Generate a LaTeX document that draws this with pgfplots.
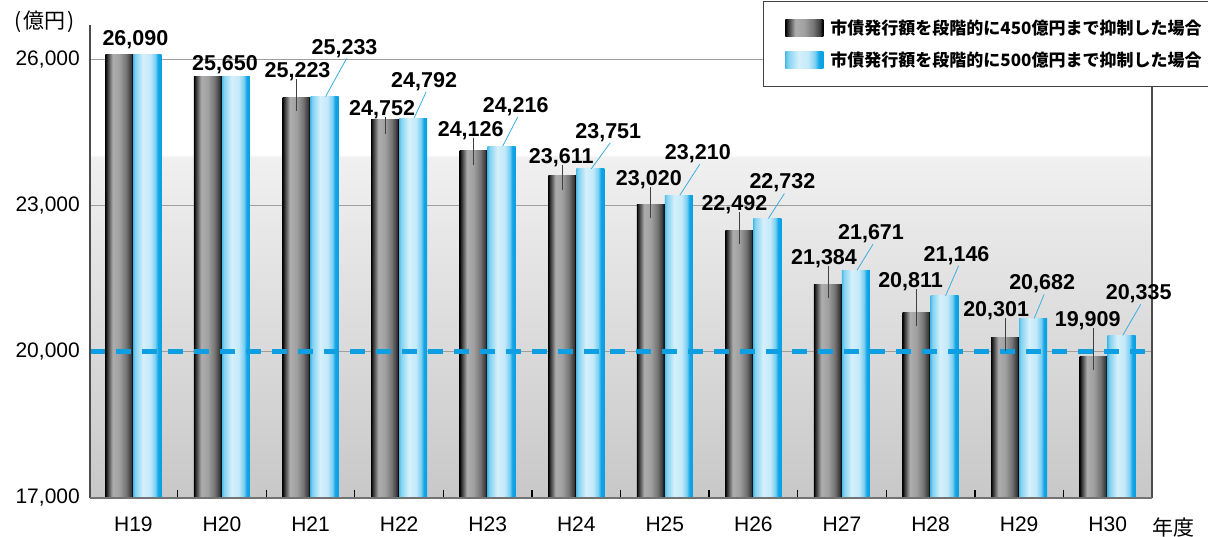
\documentclass[border=0pt]{standalone}
\usepackage{fontspec}
\setmainfont{Liberation Sans}
\newfontfamily\cjk{Noto Sans CJK JP}
\usepackage{pgfplots}
\pgfplotsset{compat=1.18}
\pgfkeys{/pgf/number format/.cd, fixed, 1000 sep={,}, assume math mode=true}

\definecolor{gbarA}{HTML}{2A2A2A}
\definecolor{gbarB}{HTML}{ADADAD}
\definecolor{gbarC}{HTML}{A0A0A0}
\definecolor{gbarD}{HTML}{747474}
\definecolor{gbarE}{HTML}{383838}
\definecolor{bbarA}{HTML}{4DBDE9}
\definecolor{bbarB}{HTML}{80D1F1}
\definecolor{bbarC}{HTML}{D5F0FB}
\definecolor{bbarD}{HTML}{C3E9F9}
\definecolor{bbarE}{HTML}{7ACFF2}
\definecolor{bbarF}{HTML}{12A5E6}
\definecolor{bbarG}{HTML}{07A0E3}
\definecolor{bgA}{HTML}{C8C8C8}
\definecolor{bgB}{HTML}{F0F0F0}
\definecolor{dashblue}{HTML}{0E9EE2}
\definecolor{leadblue}{HTML}{3AAEE0}

\pgfdeclarehorizontalshading{graybar}{100bp}{color(0bp)=(black); color(25bp)=(black); color(27.5bp)=(gbarA); color(38bp)=(gbarB); color(50bp)=(gbarC); color(62bp)=(gbarD); color(71bp)=(gbarE); color(73bp)=(black); color(100bp)=(black)}
\pgfdeclarehorizontalshading{bluebar}{100bp}{color(0bp)=(bbarA); color(25bp)=(bbarA); color(28bp)=(bbarB); color(42bp)=(bbarC); color(55bp)=(bbarD); color(64bp)=(bbarE); color(69bp)=(bbarF); color(75bp)=(bbarG); color(100bp)=(bbarG)}
\pgfdeclareverticalshading{plotbg}{100bp}{color(0bp)=(bgA); color(25bp)=(bgA); color(61bp)=(bgB); color(61.3bp)=(white); color(100bp)=(white)}

\tikzset{vlab/.style={font=\bfseries\fontsize{21.5bp}{21.5bp}\selectfont, inner sep=0pt, text depth=0pt, anchor=center}}
\pgfplotsset{
  gbarstyle/.style={ybar, bar width=28bp, bar shift=-14bp, draw=none, shade, shading=graybar,
    legend image code/.code={\path[shade, shading=graybar] (0bp,-8.5bp) rectangle (38bp,8.5bp);}},
  bbarstyle/.style={ybar, bar width=28bp, bar shift=14bp, draw=none, shade, shading=bluebar,
    legend image code/.code={\path[shade, shading=bluebar] (0bp,-8.5bp) rectangle (38bp,8.5bp);}},
}
% one bar per plot so that each bar gets its own shading
\newcommand\gbar[2]{\addplot[gbarstyle, forget plot] coordinates {(#1,#2)};}
\newcommand\bbar[2]{\addplot[bbarstyle, forget plot] coordinates {(#1,#2)};}

% idx, gray, blue, gray-dx, gray-dy, blue-dx, blue-dy
\newcommand\pair[7]{%
  \draw[black!75, line width=0.8bp] ([xshift=-14bp, yshift={#5bp-9bp}]axis cs:#1,#2) -- ([xshift=-14bp, yshift=-14bp]axis cs:#1,#2);
  \draw[leadblue, line width=0.8bp] ([xshift=15bp]axis cs:#1,#3) -- ([xshift={#6bp+2bp}, yshift={#7bp-12bp}]axis cs:#1,#3);
  \node[vlab] at ([xshift=#4bp, yshift=#5bp]axis cs:#1,#2) {\pgfmathprintnumber{#2}};
  \node[vlab] at ([xshift=#6bp, yshift=#7bp]axis cs:#1,#3) {\pgfmathprintnumber{#3}};
}

\begin{document}
\begin{tikzpicture}
\begin{axis}[
  scale only axis, width=1062bp, height=473bp,
  xmin=-0.49, xmax=11.5, ymin=17000, ymax=26700,
  xtick={0,...,11},
  xticklabels={H19,H20,H21,H22,H23,H24,H25,H26,H27,H28,H29,H30},
  ytick={17000,20000,23000,26000},
  ymajorgrids, grid style={gray!75, line width=1.2bp},
  major tick length=0pt,
  tick pos=left,
  axis line style={draw=none},
  scaled y ticks=false,
  tick label style={font=\fontsize{21bp}{24bp}\selectfont},
  xticklabel style={inner sep=0pt, anchor=north, yshift=-19bp},
  yticklabel style={inner sep=0pt, anchor=east, xshift=-10bp},
  extra x ticks={0.5,1.5,...,10.5}, extra x tick labels={},
  extra x tick style={major tick length=8bp, tick align=inside, tick style={black, line width=1.3bp}, grid=none},
  axis background/.style={shade, shading=plotbg},
  clip mode=individual,
  legend cell align=left,
  legend style={at={(0.6337,1.0507)}, anchor=north west, draw=black!75, line width=1bp, fill=white,
    inner xsep=22bp, inner ysep=18bp, row sep=15bp, nodes={inner sep=0bp},
    font=\cjk\bfseries\fontsize{17bp}{17bp}\selectfont,
    /tikz/every odd column/.append style={column sep=7bp}},
]
\addplot[gbarstyle] coordinates {(0,26090)};
\addlegendentry{市債発行額を段階的に450億円まで抑制した場合}
\addplot[bbarstyle] coordinates {(0,26090)};
\addlegendentry{市債発行額を段階的に500億円まで抑制した場合}
\gbar{1}{25650}  \bbar{1}{25650}
\gbar{2}{25223}  \bbar{2}{25233}
\gbar{3}{24752}  \bbar{3}{24792}
\gbar{4}{24126}  \bbar{4}{24216}
\gbar{5}{23611}  \bbar{5}{23751}
\gbar{6}{23020}  \bbar{6}{23210}
\gbar{7}{22492}  \bbar{7}{22732}
\gbar{8}{21384}  \bbar{8}{21671}
\gbar{9}{20811}  \bbar{9}{21146}
\gbar{10}{20301} \bbar{10}{20682}
\gbar{11}{19909} \bbar{11}{20335}
\addplot[sharp plot, forget plot, no markers, color=dashblue, line width=5bp, dash pattern=on 15bp off 11bp]
  coordinates {(-0.49,20000) (11.5,20000)};

\draw[black!70, line width=1.2bp] (rel axis cs:0,0) -- (rel axis cs:0,1);
\draw[black!70, line width=1.2bp] (rel axis cs:1,0) -- (rel axis cs:1,1);
\draw[black!55, line width=1.5bp] (rel axis cs:0,0) -- (rel axis cs:1,0);

\node[vlab] at ([xshift=2bp, yshift=17bp]axis cs:0,26090) {\pgfmathprintnumber{26090}};
\node[vlab] at ([xshift=3bp, yshift=13bp]axis cs:1,25650) {\pgfmathprintnumber{25650}};
\pair{2}{25223}{25233}{-13}{27}{34}{50}
\pair{3}{24752}{24792}{-17}{12}{25}{38}
\pair{4}{24126}{24216}{-17}{22}{28}{41}
\pair{5}{23611}{23751}{-15}{20}{32}{38}
\pair{6}{23020}{23210}{-16}{26}{33}{43}
\pair{7}{22492}{22732}{-19}{27}{29}{37}
\pair{8}{21384}{21671}{-18}{27}{29}{38}
\pair{9}{20811}{21146}{-20}{32}{26}{42}
\pair{10}{20301}{20682}{-23}{28}{23}{36}
\pair{11}{19909}{20335}{-20}{37}{31}{43}
\end{axis}
\node[font=\cjk\fontsize{21bp}{21bp}\selectfont, inner sep=0pt] at ([xshift=-45bp, yshift=476bp]current axis.south west) {(\kern2bp 億円\kern2bp)};
\node[font=\cjk\fontsize{21bp}{21bp}\selectfont, inner sep=0pt] at ([xshift=1083bp, yshift=-29bp]current axis.south west) {年度};
\pgfresetboundingbox
\path ([xshift=-90bp, yshift=-39bp]current axis.south west) rectangle ([xshift=1118bp, yshift=498bp]current axis.south west);
\end{tikzpicture}
\end{document}
